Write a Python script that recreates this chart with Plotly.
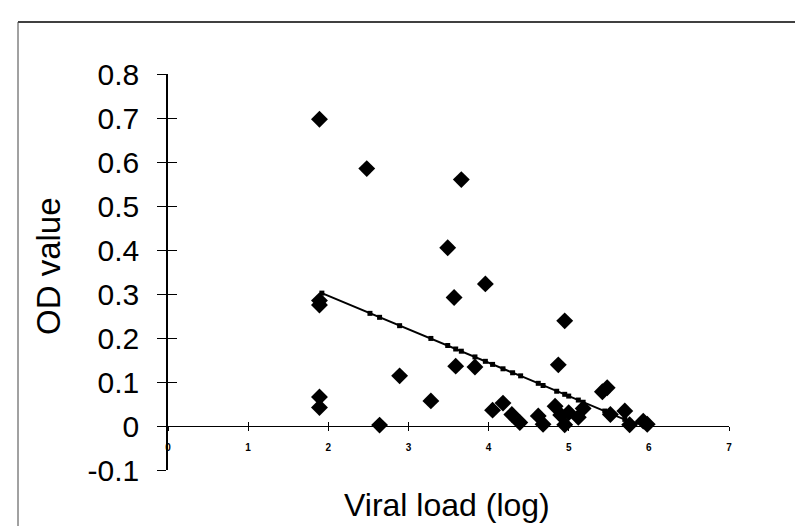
import plotly.graph_objects as go

# Observed data (viral load log, OD value)
viral_load = [1.89, 2.48, 3.66, 3.49, 3.96, 3.57, 1.89, 1.89, 4.95, 4.87,
              3.59, 3.83, 2.89, 3.28, 1.89, 1.89, 2.64, 4.05, 4.18, 4.29,
              4.39, 4.62, 4.68, 4.83, 4.90, 4.95, 5.00, 5.12, 5.18, 5.42,
              5.48, 5.52, 5.70, 5.76, 5.93, 5.98]
od_value = [0.697, 0.585, 0.560, 0.405, 0.323, 0.292, 0.285, 0.275, 0.239, 0.139,
            0.136, 0.134, 0.114, 0.057, 0.066, 0.042, 0.002, 0.036, 0.052, 0.026,
            0.008, 0.023, 0.004, 0.045, 0.025, 0.003, 0.030, 0.020, 0.040, 0.078,
            0.087, 0.026, 0.034, 0.003, 0.011, 0.004]

# Predicted (trend) series
trend_x = [1.92, 2.52, 2.64, 2.89, 3.28, 3.49, 3.59, 3.66, 3.83, 3.96,
           4.05, 4.18, 4.30, 4.40, 4.62, 4.68, 4.85, 4.95, 5.00, 5.12,
           5.18, 5.45, 5.52, 5.70, 5.76, 5.95]
trend_y = [0.302, 0.256, 0.247, 0.228, 0.199, 0.183, 0.175, 0.170, 0.157, 0.147,
           0.140, 0.130, 0.121, 0.114, 0.097, 0.092, 0.079, 0.072, 0.068, 0.059,
           0.054, 0.034, 0.028, 0.015, 0.010, 0.003]

x_ticks = [0, 1, 2, 3, 4, 5, 6, 7]
y_ticks = [-0.1, 0, 0.1, 0.2, 0.3, 0.4, 0.5, 0.6, 0.7, 0.8]
y_tick_labels = ["-0.1", "0", "0.1", "0.2", "0.3", "0.4", "0.5", "0.6", "0.7", "0.8"]

FONT = "Liberation Sans, Arial, sans-serif"

fig = go.Figure()
fig.add_trace(go.Scatter(
    x=viral_load, y=od_value, mode="markers",
    marker=dict(symbol="diamond", size=13, color="black", line=dict(width=0)),
    showlegend=False,
))
fig.add_trace(go.Scatter(
    x=trend_x, y=trend_y, mode="lines+markers",
    line=dict(color="black", width=2),
    marker=dict(symbol="square", size=5, color="black"),
    showlegend=False,
))

W, H = 803, 526
L, R, T, B = 160, 82, 66, 64
pw, ph = W - L - R, H - T - B
y0_frac = (0 - (-0.1)) / 0.9

def px_x(p):
    return (p - L) / pw

def px_y(p):
    return (H - B - p) / ph

fig.update_layout(
    width=W, height=H,
    margin=dict(l=L, r=R, t=T, b=B),
    paper_bgcolor="white", plot_bgcolor="white",
    font=dict(family=FONT, color="black"),
    xaxis=dict(
        range=[0, 7], tickvals=x_ticks, ticktext=[str(v) for v in x_ticks],
        showgrid=False, zeroline=False, showline=True, linecolor="black", linewidth=1,
        ticks="outside", ticklen=4, tickcolor="black",
        tickfont=dict(size=10, weight="bold"),
        anchor="free", position=y0_frac, ticklabelstandoff=8,
    ),
    xaxis2=dict(
        range=[0, 7], tickvals=x_ticks, overlaying="x", showgrid=False, zeroline=False,
        showline=False, ticks="inside", ticklen=4, tickcolor="black",
        showticklabels=False, anchor="free", position=y0_frac,
    ),
    yaxis=dict(
        range=[-0.1, 0.8], tickvals=y_ticks, ticktext=y_tick_labels,
        showgrid=False, zeroline=False, showline=True, linecolor="black", linewidth=1.5,
        ticks="outside", ticklen=9, tickcolor="black", tickwidth=1,
        tickfont=dict(size=30), ticklabelstandoff=12,
    ),
    yaxis2=dict(
        range=[-0.1, 0.8], tickvals=y_ticks, overlaying="y", side="left",
        showgrid=False, zeroline=False, showline=False,
        ticks="inside", ticklen=9, tickcolor="black", showticklabels=False,
    ),
    annotations=[
        dict(text="OD value", x=px_x(40), y=px_y(258), xref="paper", yref="paper",
             textangle=-90, showarrow=False, font=dict(size=33),
             xanchor="center", yanchor="middle"),
        dict(text="Viral load (log)", x=px_x(439), y=px_y(497), xref="paper", yref="paper",
             showarrow=False, font=dict(size=32), xanchor="center", yanchor="middle"),
    ],
    shapes=[
        dict(type="line", xref="paper", yref="paper", x0=px_x(10), x1=px_x(803),
             y0=px_y(14), y1=px_y(14), line=dict(color="black", width=1.5)),
        dict(type="line", xref="paper", yref="paper", x0=px_x(10), x1=px_x(10),
             y0=px_y(14), y1=px_y(526), line=dict(color="#444", width=1)),
    ],
)
# dummy trace to activate overlay axes
fig.add_trace(go.Scatter(x=[None], y=[None], xaxis="x2", yaxis="y2", showlegend=False, hoverinfo="skip"))

fig.write_html("out.html")
